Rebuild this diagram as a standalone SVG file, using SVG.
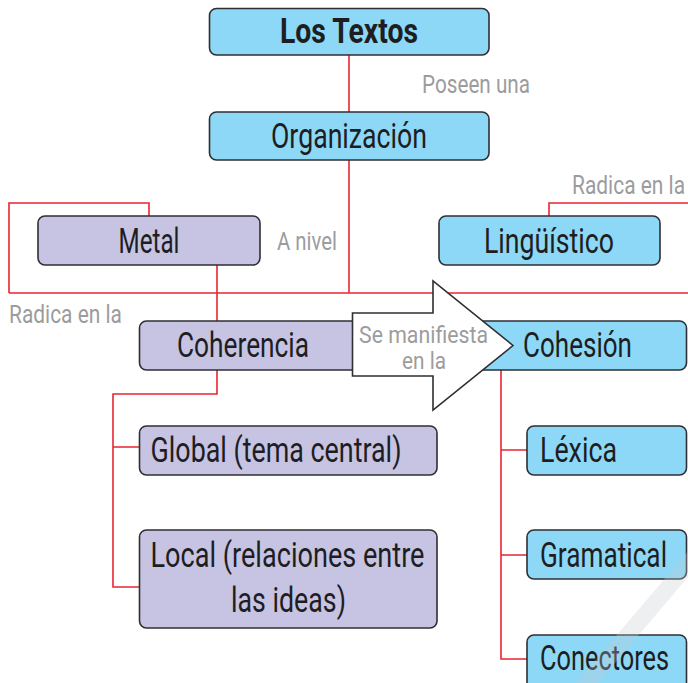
<svg xmlns="http://www.w3.org/2000/svg" width="688" height="683" viewBox="0 0 688 683">
<style>
.box{stroke:#2f2f33;stroke-width:1.6}
.blue{fill:#8dd8f6}
.purple{fill:#c6c3e3}
.t{font-family:Roboto,"Liberation Sans",sans-serif;font-size:34.5px;fill:#1e1e22}
.b{font-weight:bold}
.g{font-family:Roboto,"Liberation Sans",sans-serif;font-size:26.5px;fill:#9c9c9e}
.c{fill:none;stroke:#e8252f;stroke-width:1.6}
</style>
<rect width="688" height="683" fill="#ffffff"/>
<g id="connectors">
<path class="c" d="M349,55 V112"/>
<path class="c" d="M349,160 V293"/>
<path class="c" d="M9,293 H688"/>
<path class="c" d="M9,293 V203 H149 V216"/>
<path class="c" d="M549,216 V203 H688"/>
<path class="c" d="M217,265 V321"/>
<path class="c" d="M217,370 V394 H113 V587 H139 M113,447 H139"/>
<path class="c" d="M501,370 V659 H527 M501,450 H527 M501,555 H527"/>
</g>
<g id="labels">
<text class="g" x="422" y="93" textLength="108" lengthAdjust="spacingAndGlyphs">Poseen una</text>
<text class="g" transform="translate(572,194) scale(0.79,1)" x="0" y="0">Radica en la</text>
<text class="g" x="277" y="250" textLength="60" lengthAdjust="spacingAndGlyphs">A nivel</text>
<text class="g" x="9" y="323" textLength="113" lengthAdjust="spacingAndGlyphs">Radica en la</text>
</g>
<g id="los-textos">
<rect class="box blue" x="209.5" y="8.5" width="279.5" height="46.5" rx="7"/>
<text class="t b" x="349" y="43" text-anchor="middle" textLength="138" lengthAdjust="spacingAndGlyphs">Los Textos</text>
</g>
<g id="organizacion">
<rect class="box blue" x="209.5" y="112" width="279.5" height="48" rx="7"/>
<text class="t" x="349" y="148" text-anchor="middle" textLength="156" lengthAdjust="spacingAndGlyphs">Organización</text>
</g>
<g id="metal">
<rect class="box purple" x="38" y="216" width="222" height="49" rx="7"/>
<text class="t" x="149" y="253" text-anchor="middle" textLength="61" lengthAdjust="spacingAndGlyphs">Metal</text>
</g>
<g id="linguistico">
<rect class="box blue" x="439" y="216" width="221" height="49" rx="7"/>
<text class="t" x="549" y="253" text-anchor="middle" textLength="130" lengthAdjust="spacingAndGlyphs">Lingüístico</text>
</g>
<g id="coherencia">
<rect class="box purple" x="139.5" y="321" width="270" height="49" rx="7"/>
<text class="t" x="243" y="357" text-anchor="middle" textLength="132" lengthAdjust="spacingAndGlyphs">Coherencia</text>
</g>
<g id="cohesion">
<rect class="box blue" x="460" y="321" width="226.5" height="49" rx="7"/>
<text class="t" x="577.5" y="357" text-anchor="middle" textLength="109" lengthAdjust="spacingAndGlyphs">Cohesión</text>
</g>
<g id="arrow">
<polygon points="352.5,313 433,313 433,281 513,345.5 433,410 433,376 352.5,376" fill="#ffffff" stroke="#2f2f33" stroke-width="1.6" stroke-linejoin="miter"/>
<text class="g" x="359" y="343" textLength="129" lengthAdjust="spacingAndGlyphs" style="font-size:23.5px">Se manifiesta</text>
<text class="g" x="424" y="369" text-anchor="middle" textLength="44" lengthAdjust="spacingAndGlyphs" style="font-size:23.5px">en la</text>
</g>
<g id="global">
<rect class="box purple" x="139.5" y="426" width="297.5" height="49" rx="7"/>
<text class="t" x="150.5" y="462" textLength="251" lengthAdjust="spacingAndGlyphs">Global (tema central)</text>
</g>
<g id="local">
<rect class="box purple" x="139.5" y="530" width="297.5" height="98" rx="7"/>
<text class="t" x="150.5" y="567" textLength="274" lengthAdjust="spacingAndGlyphs">Local (relaciones entre</text>
<text class="t" x="288.5" y="612" text-anchor="middle" textLength="115" lengthAdjust="spacingAndGlyphs">las ideas)</text>
</g>
<g id="lexica">
<rect class="box blue" x="527" y="426" width="159.5" height="49" rx="7"/>
<text class="t" x="540" y="462" textLength="77" lengthAdjust="spacingAndGlyphs">Léxica</text>
</g>
<g id="gramatical">
<rect class="box blue" x="527" y="530" width="159.5" height="49" rx="7"/>
<text class="t" transform="translate(540,567) scale(0.76,1)" x="0" y="0">Gramatical</text>
</g>
<g id="conectores">
<rect class="box blue" x="527" y="635" width="159.5" height="60" rx="7"/>
<text class="t" transform="translate(540,670) scale(0.735,1)" x="0" y="0">Conectores</text>
</g>
<polygon points="700,537 722,537 598,683 576,683" fill="#c8cad0" opacity="0.3"/>
</svg>
